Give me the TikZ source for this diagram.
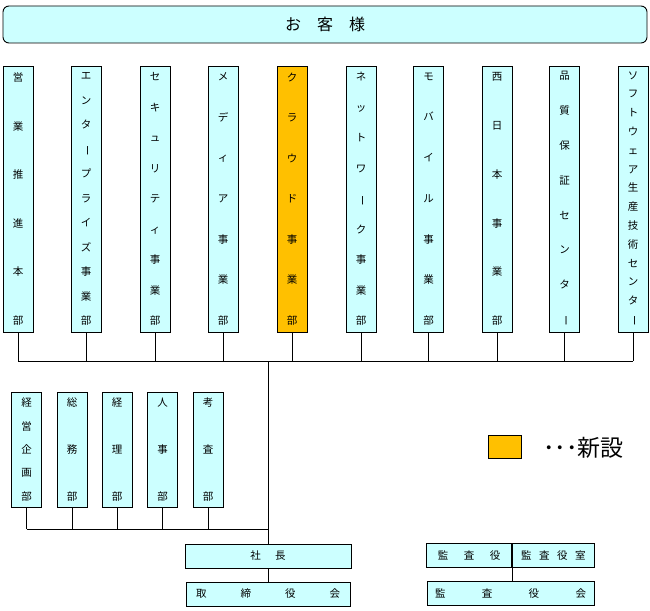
\documentclass[tikz,border=0pt]{standalone}
\usepackage{fontspec}
\usepackage{graphicx}
\newfontfamily\cjk{Noto Sans CJK JP}
\definecolor{cyanbg}{HTML}{CCFFFF}
\definecolor{neworange}{HTML}{FFC000}
\makeatletter
\newcommand\vjust[1]{\let\vj@sep\relax\@tfor\vj@c:=#1\do{\vj@sep\hbox to\hsize{\hss\vj@c\hss}\let\vj@sep\vfill}}
\makeatother
\newcommand\vbar{\rotatebox[origin=c]{-90}{ー}}
\newcommand\tallt[1]{\raisebox{-2pt}{\parbox[c][252pt][s]{22pt}{\vjust{#1}}}}
\newcommand\shortt[1]{\raisebox{-1.5pt}{\parbox[c][102pt][s]{22pt}{\vjust{#1}}}}
\tikzset{
  base/.style={draw=black, line width=0.9pt, fill=cyanbg, inner sep=0pt, font=\cjk\fontsize{10.5}{12}\selectfont},
  tallbox/.style={base, minimum width=30pt, minimum height=266pt},
  newbox/.style={tallbox, fill=neworange},
  shortbox/.style={base, minimum width=30pt, minimum height=115pt},
  widebox/.style={base, minimum height=24pt},
  conn/.style={draw=black, line width=0.8pt}
}
\begin{document}
\begin{tikzpicture}[x=1pt,y=-1pt]
\useasboundingbox (0,0) rectangle (650,610);
\node[base, rounded corners=6pt, minimum width=644pt, minimum height=37pt, font=\cjk\fontsize{16}{18}\selectfont] (cust) at (325,24.5) {お\hspace{1em}客\hspace{1em}様};
% top boxes
\node[tallbox] (b1) at (18,199) {\tallt{営業推進本部}};
\node[tallbox] (b2) at (86,199) {\tallt{エンタ\vbar プライズ事業部}};
\node[tallbox] (b3) at (155,199) {\tallt{セキュリティ事業部}};
\node[tallbox] (b4) at (223,199) {\tallt{メディア事業部}};
\node[newbox] (b5) at (292,199) {\tallt{クラウド事業部}};
\node[tallbox] (b6) at (361,199) {\tallt{ネットワ\vbar ク事業部}};
\node[tallbox] (b7) at (428.5,199) {\tallt{モバイル事業部}};
\node[tallbox] (b8) at (497,199) {\tallt{西日本事業部}};
\node[tallbox] (b9) at (564.5,199) {\tallt{品質保証センタ\vbar}};
\node[tallbox] (b10) at (633,199) {\tallt{ソフトウェア生産技術センタ\vbar}};
\coordinate (bus) at (0,361);
\foreach \i in {1,...,10}{\draw[conn] (b\i.south) -- (b\i.south |- bus);}
\draw[conn] (b1.south |- bus) -- (b10.south |- bus);
% lower boxes
\node[shortbox] (k1) at (26.5,449.5) {\shortt{経営企画部}};
\node[shortbox] (k2) at (72,449.5) {\shortt{総務部}};
\node[shortbox] (k3) at (117,449.5) {\shortt{経理部}};
\node[shortbox] (k4) at (162.5,449.5) {\shortt{人事部}};
\node[shortbox] (k5) at (208,449.5) {\shortt{考査部}};
\coordinate (bus2) at (0,529);
\foreach \i in {1,...,5}{\draw[conn] (k\i.south) -- (k\i.south |- bus2);}
% president
\node[widebox, minimum width=166pt] (pres) at (268,556) {社\hspace{14.5pt}長};
\node[widebox, minimum width=164pt] (board) at (268,594) {\makebox[144pt][s]{取\hfill 締\hfill 役\hfill 会}};
\draw[conn] (pres.north |- bus) -- (pres.north);
\draw[conn] (k1.south |- bus2) -- (pres.north |- bus2);
\draw[conn] (pres.south) -- (board.north);
% auditors
\node[widebox, minimum width=85pt, anchor=east] (aud) at (512,555.5) {監\hspace{15.5pt}査\hspace{15.5pt}役};
\node[widebox, minimum width=82pt, anchor=west] (audoff) at (512,555.5) {監\hspace{7.5pt}査\hspace{7.5pt}役\hspace{7.5pt}室};
\node[widebox, minimum width=167pt] (audboard) at (510.5,593.5) {\makebox[151pt][s]{監\hfill 査\hfill 役\hfill 会}};
\draw[conn] (aud.south east) -- (aud.south east |- audboard.north);
% legend
\node[draw=black, line width=0.9pt, fill=neworange, minimum width=33pt, minimum height=23pt, inner sep=0pt] (leg) at (504.5,446.5) {};
\node[font=\cjk\fontsize{23}{25}\selectfont, inner sep=0pt, anchor=west] (legt) at (543,448) {･･･新設};
\end{tikzpicture}
\end{document}
